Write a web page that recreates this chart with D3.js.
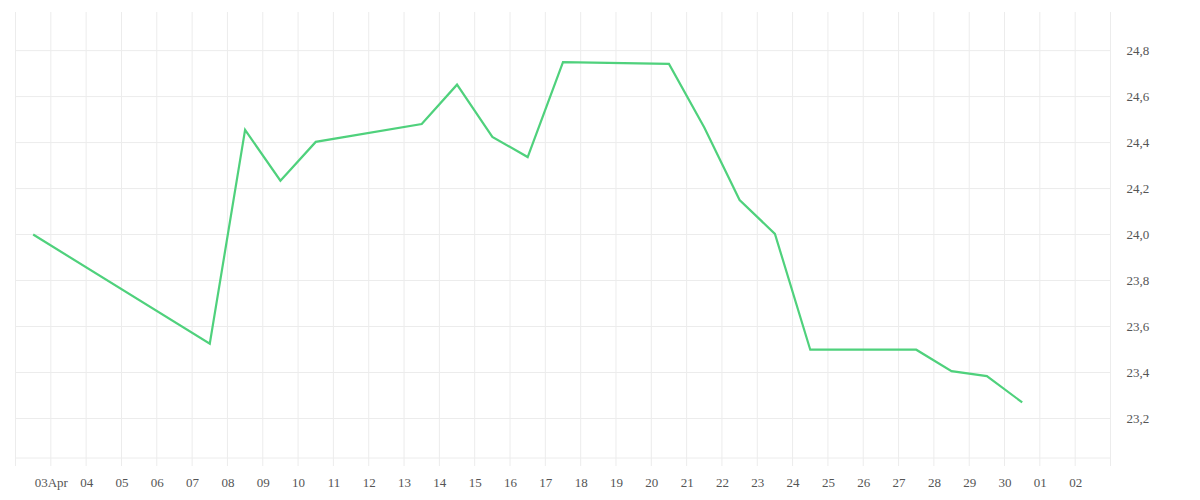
<!DOCTYPE html>
<html>
<head>
<meta charset="utf-8">
<script src="https://cdn.jsdelivr.net/npm/d3@7"></script>
<style>
  body { margin: 0; background: #fff; }
  svg { display: block; }
</style>
</head>
<body>
<svg width="1200" height="500"></svg>
<script>
// daily readings (noon of each day), gaps where there is no value
const dates = ['2021-04-02', '2021-04-07', '2021-04-08', '2021-04-09', '2021-04-10',
  '2021-04-13', '2021-04-14', '2021-04-15', '2021-04-16', '2021-04-17',
  '2021-04-20', '2021-04-21', '2021-04-22', '2021-04-23', '2021-04-24',
  '2021-04-27', '2021-04-28', '2021-04-29', '2021-04-30'];
const values = [24.0, 23.525, 24.455, 24.234, 24.403,
  24.481, 24.652, 24.425, 24.337, 24.750,
  24.742, 24.466, 24.150, 24.003, 23.499,
  23.499, 23.406, 23.384, 23.270];

// axis ticks
const xTickDays = ['2021-04-03', '2021-04-04', '2021-04-05', '2021-04-06', '2021-04-07',
  '2021-04-08', '2021-04-09', '2021-04-10', '2021-04-11', '2021-04-12', '2021-04-13',
  '2021-04-14', '2021-04-15', '2021-04-16', '2021-04-17', '2021-04-18', '2021-04-19',
  '2021-04-20', '2021-04-21', '2021-04-22', '2021-04-23', '2021-04-24', '2021-04-25',
  '2021-04-26', '2021-04-27', '2021-04-28', '2021-04-29', '2021-04-30', '2021-05-01',
  '2021-05-02'];
const xTickLabels = ['03Apr', '04', '05', '06', '07', '08', '09', '10', '11', '12', '13',
  '14', '15', '16', '17', '18', '19', '20', '21', '22', '23', '24', '25', '26', '27',
  '28', '29', '30', '01', '02'];
const yTicks = [23.2, 23.4, 23.6, 23.8, 24.0, 24.2, 24.4, 24.6, 24.8];

const svg = d3.select('svg');
const margin = { top: 12, right: 89.5, bottom: 42, left: 15.5 };
const width = +svg.attr('width');
const height = +svg.attr('height');
const innerWidth = width - margin.left - margin.right;
const innerHeight = height - margin.top - margin.bottom;

const parse = d3.utcParse('%Y-%m-%d');
const data = dates.map((d, i) => ({ date: d3.utcHour.offset(parse(d), 12), value: values[i] }));

const xScale = d3.scaleUtc()
  .domain([parse('2021-04-02'), parse('2021-05-03')])
  .range([0, innerWidth]);
const yScale = d3.scaleLinear()
  .domain([23.028, 24.968])
  .range([innerHeight, 0]);

const g = svg.append('g')
  .attr('transform', `translate(${margin.left},${margin.top})`);

// vertical grid, one line per day, with a short tick under the plot
const gridDays = d3.utcDay.range(parse('2021-04-02'), d3.utcDay.offset(parse('2021-05-03'), 1));
g.append('g').selectAll('line').data(gridDays)
  .enter().append('line')
    .attr('x1', d => xScale(d)).attr('x2', d => xScale(d))
    .attr('y1', 0).attr('y2', innerHeight + 8)
    .attr('stroke', '#ececec');

// horizontal grid
g.append('g').selectAll('line').data(yTicks)
  .enter().append('line')
    .attr('x1', 0).attr('x2', innerWidth)
    .attr('y1', d => yScale(d)).attr('y2', d => yScale(d))
    .attr('stroke', '#ececec');
g.append('line')
  .attr('x1', 0).attr('x2', innerWidth)
  .attr('y1', innerHeight).attr('y2', innerHeight)
  .attr('stroke', '#ececec');

// x axis labels
const xAxis = d3.axisBottom(xScale)
  .tickValues(xTickDays.map(parse))
  .tickFormat((d, i) => xTickLabels[i])
  .tickSize(0)
  .tickPadding(20);
g.append('g')
  .attr('transform', `translate(0,${innerHeight})`)
  .call(xAxis)
  .attr('font-family', '"Liberation Serif", serif')
  .attr('font-size', 13)
  .call(a => a.select('.domain').remove())
  .selectAll('text').attr('fill', '#555');

// y axis on the right
const yAxis = d3.axisRight(yScale)
  .tickValues(yTicks)
  .tickFormat(d => d3.format('.1f')(d).replace('.', ','))
  .tickSize(0)
  .tickPadding(16);
g.append('g')
  .attr('transform', `translate(${innerWidth},0)`)
  .call(yAxis)
  .attr('font-family', '"Liberation Serif", serif')
  .attr('font-size', 13)
  .call(a => a.select('.domain').attr('stroke', '#ececec').attr('d', `M0,0V${innerHeight + 8}`))
  .selectAll('text').attr('fill', '#555');

// the series line
const line = d3.line()
  .x(d => xScale(d.date))
  .y(d => yScale(d.value));
g.append('path')
  .datum(data)
  .attr('fill', 'none')
  .attr('stroke', '#4fd17c')
  .attr('stroke-width', 2.2)
  .attr('d', line);
</script>
</body>
</html>
